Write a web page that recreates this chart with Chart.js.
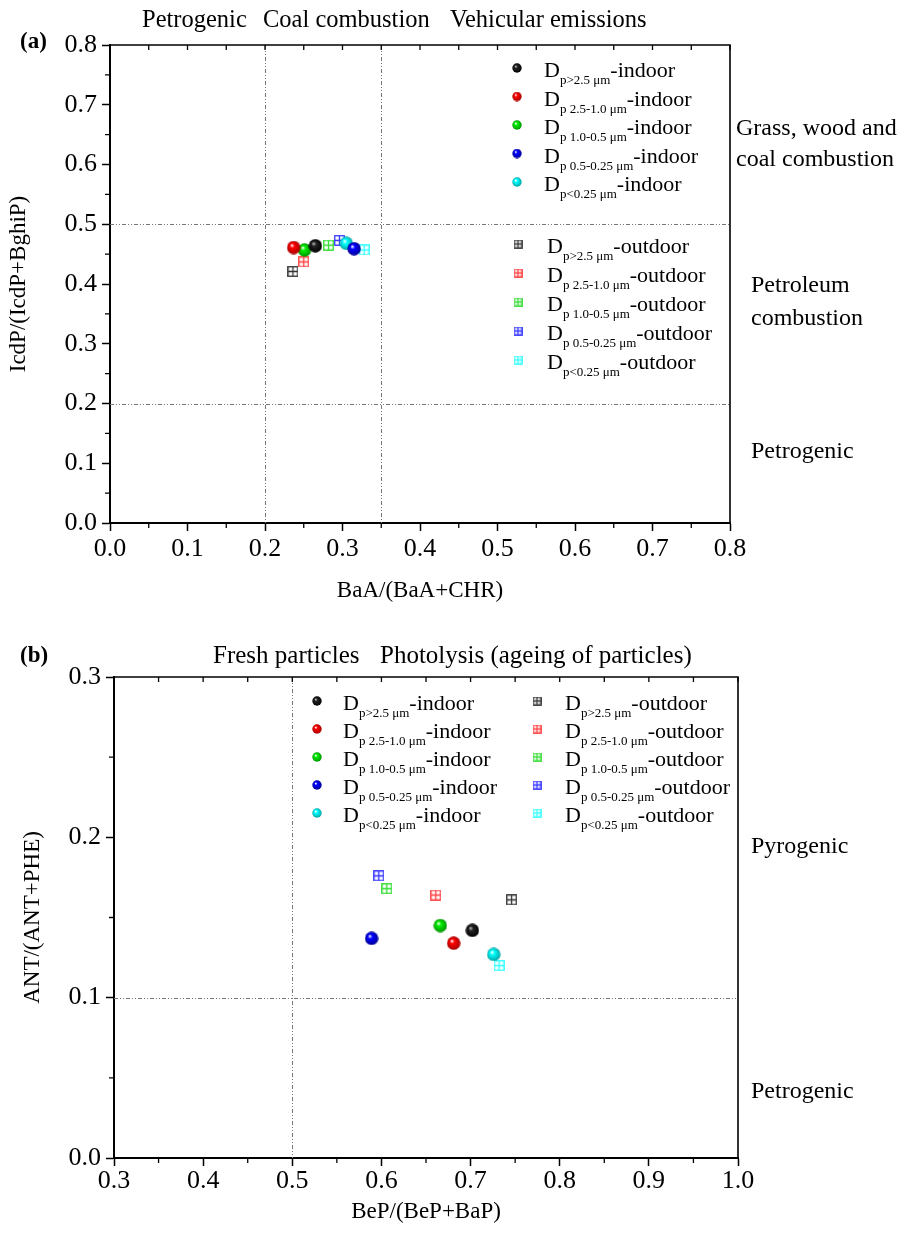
<!DOCTYPE html>
<html>
<head>
<meta charset="utf-8">
<script src="https://cdn.jsdelivr.net/npm/chart.js@4.4.0/dist/chart.umd.min.js"></script>
<style>
  body { margin: 0; background: #fff; }
  canvas { position: absolute; left: 0; }
  #chartA { top: 0; }
  #chartB { top: 610px; }
</style>
</head>
<body>
<canvas id="chartA" width="914" height="610"></canvas>
<canvas id="chartB" width="914" height="626"></canvas>
<script>
// size fractions, same order for both panels
const sizeSubs = ["p>2.5 \u03bcm", "p 2.5-1.0 \u03bcm", "p 1.0-0.5 \u03bcm", "p 0.5-0.25 \u03bcm", "p<0.25 \u03bcm"];
const sizeColors = ["#000000", "#ff0000", "#00ee00", "#0000ff", "#00ffff"];
const darkColors = ["#000000", "#a00000", "#009000", "#000090", "#00a0a0"];
const squareColors = ["#333333", "#ff4040", "#33dd33", "#3333ff", "#33ffff"];

// panel (a): BaA/(BaA+CHR) vs IcdP/(IcdP+BghiP)
const indoorA_x = [0.265, 0.237, 0.251, 0.315, 0.305];
const indoorA_y = [0.464, 0.461, 0.457, 0.459, 0.468];
const outdoorA_x = [0.236, 0.250, 0.282, 0.296, 0.328];
const outdoorA_y = [0.421, 0.437, 0.465, 0.473, 0.457];

// panel (b): BeP/(BeP+BaP) vs ANT/(ANT+PHE)
const indoorB_x = [0.702, 0.681, 0.666, 0.589, 0.726];
const indoorB_y = [0.142, 0.134, 0.145, 0.137, 0.127];
const outdoorB_x = [0.746, 0.661, 0.606, 0.597, 0.732];
const outdoorB_y = [0.161, 0.164, 0.168, 0.176, 0.120];

const SERIF = "'Liberation Serif', 'Times New Roman', serif";

function sphere(i, d) {
  const c = document.createElement("canvas");
  c.width = c.height = d;
  const ctx = c.getContext("2d");
  const g = ctx.createRadialGradient(d * 0.36, d * 0.33, d * 0.02, d / 2, d / 2, d / 2);
  g.addColorStop(0, i === 0 ? "#bbbbbb" : "#ffffff");
  g.addColorStop(0.3, i === 0 ? "#222222" : sizeColors[i]);
  g.addColorStop(1, darkColors[i]);
  ctx.fillStyle = g;
  ctx.beginPath();
  ctx.arc(d / 2, d / 2, d / 2 - 0.3, 0, Math.PI * 2);
  ctx.fill();
  return c;
}

function gridSquare(i, s) {
  const c = document.createElement("canvas");
  c.width = c.height = s;
  const ctx = c.getContext("2d");
  ctx.fillStyle = "#fff";
  ctx.fillRect(0, 0, s, s);
  ctx.strokeStyle = squareColors[i];
  ctx.lineWidth = 1.3;
  ctx.strokeRect(0.75, 0.75, s - 1.5, s - 1.5);
  ctx.beginPath();
  ctx.moveTo(s / 2, 1); ctx.lineTo(s / 2, s - 1);
  ctx.moveTo(1, s / 2); ctx.lineTo(s - 1, s / 2);
  ctx.stroke();
  return c;
}

function makeDatasets(inX, inY, outX, outY) {
  const sets = [];
  for (let i = 0; i < 5; i++) {
    sets.push({
      label: "D" + sizeSubs[i] + "-indoor",
      data: [{ x: inX[i], y: inY[i] }],
      pointStyle: sphere(i, 14),
      legendImg: sphere(i, 10),
      sub: sizeSubs[i], suffix: "-indoor",
      pointRadius: 7
    });
  }
  for (let i = 0; i < 5; i++) {
    sets.push({
      label: "D" + sizeSubs[i] + "-outdoor",
      data: [{ x: outX[i], y: outY[i] }],
      pointStyle: gridSquare(i, 11),
      legendImg: gridSquare(i, 9),
      sub: sizeSubs[i], suffix: "-outdoor",
      pointRadius: 6
    });
  }
  return sets;
}

// frame, minor ticks, dash-dot reference lines, legend and side labels
const decoPlugin = {
  id: "deco",
  afterDatasetsDraw(chart, args, opts) {
    const { ctx, chartArea: a, scales: { x, y } } = chart;
    ctx.save();
    // reference lines
    ctx.strokeStyle = "#777";
    ctx.lineWidth = 1;
    ctx.setLineDash([4, 2, 1, 2, 1, 2]);
    ctx.beginPath();
    opts.vLines.forEach(v => { const px = Math.round(x.getPixelForValue(v)) + 0.5; ctx.moveTo(px, a.top); ctx.lineTo(px, a.bottom); });
    opts.hLines.forEach(v => { const py = Math.round(y.getPixelForValue(v)) + 0.5; ctx.moveTo(a.left, py); ctx.lineTo(a.right, py); });
    ctx.stroke();
    ctx.setLineDash([]);
    // top and right frame
    ctx.strokeStyle = "#000";
    ctx.lineWidth = 1.6;
    ctx.beginPath();
    ctx.moveTo(a.left, a.top); ctx.lineTo(a.right, a.top); ctx.lineTo(a.right, a.bottom);
    ctx.stroke();
    // minor ticks outward, top ticks inward
    ctx.lineWidth = 1.3;
    ctx.beginPath();
    for (let v = x.min; v <= x.max + 1e-9; v += 0.05) {
      const px = x.getPixelForValue(v);
      ctx.moveTo(px, a.top); ctx.lineTo(px, a.top + 5);
    }
    for (let v = x.min + 0.05; v < x.max; v += 0.1) {
      const px = x.getPixelForValue(v);
      ctx.moveTo(px, a.bottom); ctx.lineTo(px, a.bottom + 5);
    }
    for (let v = y.min + 0.05; v < y.max; v += 0.1) {
      const py = y.getPixelForValue(v);
      ctx.moveTo(a.left, py); ctx.lineTo(a.left - 5, py);
    }
    ctx.stroke();
    // legend
    ctx.fillStyle = "#000";
    ctx.textAlign = "left";
    ctx.textBaseline = "alphabetic";
    opts.legendCols.forEach(col => {
      col.sets.forEach((di, k) => {
        const ds = chart.data.datasets[di];
        const cy = col.top + k * col.step;
        const img = ds.legendImg;
        ctx.drawImage(img, col.markerX - img.width / 2, cy - img.height / 2);
        ctx.font = "22px " + SERIF;
        ctx.fillText("D", col.textX, cy + 9);
        let tx = col.textX + ctx.measureText("D").width;
        ctx.font = "13px " + SERIF;
        ctx.fillText(ds.sub, tx, cy + 16);
        tx += ctx.measureText(ds.sub).width;
        ctx.font = "22px " + SERIF;
        ctx.fillText(ds.suffix, tx, cy + 9);
      });
    });
    // surrounding labels
    opts.texts.forEach(t => {
      ctx.font = (t.bold ? "bold " : "") + t.size + "px " + SERIF;
      ctx.fillText(t.s, t.x, t.y, t.w || undefined);
    });
    ctx.restore();
  }
};

function axisOpts(min, max, title, fitSize, isX, titlePad, tickPad) {
  return {
    type: "linear",
    min: min, max: max,
    afterFit(s) { if (isX) s.height = fitSize; else s.width = fitSize; },
    ticks: {
      stepSize: 0.1,
      padding: tickPad,
      color: "#000",
      font: { family: SERIF, size: 26 },
      callback: v => v.toFixed(1)
    },
    grid: { drawOnChartArea: false, drawTicks: true, tickLength: 8, tickColor: "#000", tickWidth: 1.5 },
    border: { display: true, color: "#000", width: 2 },
    title: { display: true, text: title, color: "#000", font: { family: SERIF, size: 23 }, padding: titlePad }
  };
}

function baseOptions(layoutPad, xs, ys, deco) {
  return {
    responsive: false,
    animation: false,
    layout: { padding: layoutPad },
    plugins: { legend: { display: false }, tooltip: { enabled: false }, deco: deco },
    scales: { x: xs, y: ys }
  };
}

new Chart(document.getElementById("chartA"), {
  type: "scatter",
  data: { datasets: makeDatasets(indoorA_x, indoorA_y, outdoorA_x, outdoorA_y) },
  options: baseOptions(
    { top: 45, right: 184, left: 0, bottom: 0 },
    axisOpts(0, 0.8, "BaA/(BaA+CHR)", 87, true, { top: 0, bottom: 5 }, 3),
    axisOpts(0, 0.8, "IcdP/(IcdP+BghiP)", 110, false, { top: 5, bottom: 0 }, 5),
    {
      vLines: [0.2, 0.35], hLines: [0.5, 0.2],
      legendCols: [
        { markerX: 517, textX: 544, top: 68, step: 28.5, sets: [0, 1, 2, 3, 4] },
        { markerX: 518, textX: 547, top: 244, step: 29, sets: [5, 6, 7, 8, 9] }
      ],
      texts: [
        { s: "(a)", x: 20, y: 48, size: 23, bold: true },
        { s: "Petrogenic", x: 142, y: 27, size: 24.5 },
        { s: "Coal combustion", x: 263, y: 27, size: 24.5 },
        { s: "Vehicular emissions", x: 450, y: 27, size: 24.5 },
        { s: "Grass, wood and", x: 736, y: 135, size: 24 },
        { s: "coal combustion", x: 736, y: 166, size: 24 },
        { s: "Petroleum", x: 751, y: 292, size: 24 },
        { s: "combustion", x: 751, y: 325, size: 24 },
        { s: "Petrogenic", x: 751, y: 458, size: 24 }
      ]
    }
  ),
  plugins: [decoPlugin]
});

new Chart(document.getElementById("chartB"), {
  type: "scatter",
  data: { datasets: makeDatasets(indoorB_x, indoorB_y, outdoorB_x, outdoorB_y) },
  options: baseOptions(
    { top: 67, right: 176, left: 0, bottom: 0 },
    axisOpts(0.3, 1.0, "BeP/(BeP+BaP)", 78, true, { top: 0, bottom: 10 }, 0),
    axisOpts(0, 0.3, "ANT/(ANT+PHE)", 114, false, { top: 19, bottom: 0 }, 5),
    {
      vLines: [0.5], hLines: [0.1],
      legendCols: [
        { markerX: 317, textX: 343, top: 91, step: 28, sets: [0, 1, 2, 3, 4] },
        { markerX: 537, textX: 565, top: 91, step: 28, sets: [5, 6, 7, 8, 9] }
      ],
      texts: [
        { s: "(b)", x: 20, y: 52, size: 23, bold: true },
        { s: "Fresh particles", x: 213, y: 53, size: 25 },
        { s: "Photolysis (ageing of particles)", x: 380, y: 53, size: 25 },
        { s: "Pyrogenic", x: 751, y: 243, size: 24 },
        { s: "Petrogenic", x: 751, y: 488, size: 24 }
      ]
    }
  ),
  plugins: [decoPlugin]
});
</script>
</body>
</html>
